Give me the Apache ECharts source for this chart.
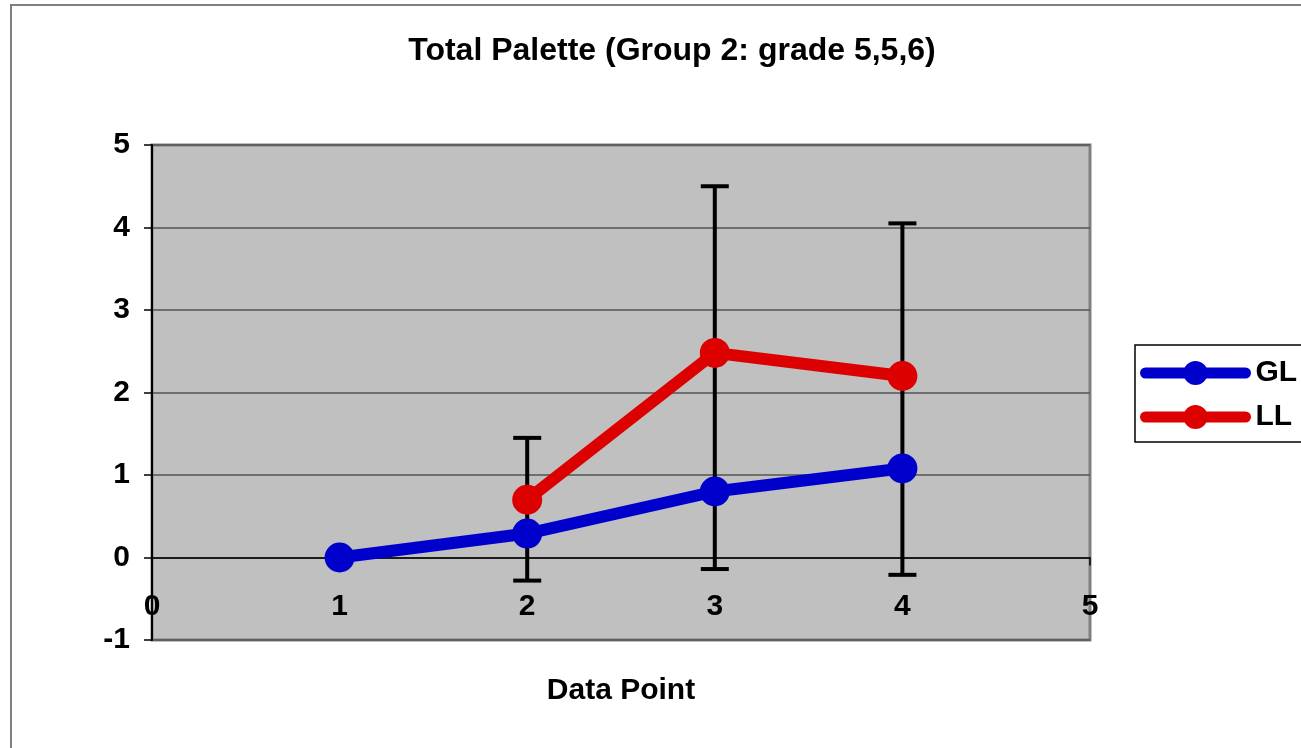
<!DOCTYPE html>
<html>
<head>
<meta charset="utf-8">
<script src="https://cdn.jsdelivr.net/npm/echarts@6/dist/echarts.min.js"></script>
<style>
  html, body { margin: 0; padding: 0; background: #fff; }
  #chart { width: 1301px; height: 748px; }
</style>
</head>
<body>
<div id="chart"></div>
<script>
// data
const xPoints = [1, 2, 3, 4];
const glValues = [0, 0.29, 0.8, 1.08];
const llValues = [null, 0.7, 2.48, 2.2];
const errX = [2, 3, 4];
const errLow = [-0.28, -0.14, -0.21];
const errHigh = [1.45, 4.5, 4.05];
const yTicks = [-1, 0, 1, 2, 3, 4, 5];

const chart = echarts.init(document.getElementById("chart"));
const font = "Liberation Sans, Arial, sans-serif";

const glData = xPoints.map((x, i) => [x, glValues[i]]);
const llData = xPoints.map((x, i) => [x, llValues[i]]).filter(d => d[1] !== null);
const errData = errX.map((x, i) => [x, errLow[i], errHigh[i]]);

const option = {
  backgroundColor: "#fff",
  animation: false,
  title: {
    text: "Total Palette (Group 2: grade 5,5,6)",
    left: 667,
    top: 30,
    textAlign: "center",
    textStyle: { fontFamily: font, fontSize: 32, fontWeight: "bold", color: "#000" },
  },
  grid: {
    left: 152,
    top: 145,
    right: 211,
    bottom: 108,
    outerBoundsMode: "none",
    containLabel: false,
    show: true,
    backgroundColor: "#C0C0C0",
    borderColor: "#808080",
    borderWidth: 3,
  },
  legend: {
    orient: "vertical",
    left: 1135,
    top: 353,
    itemWidth: 100,
    itemHeight: 30,
    itemGap: 14,
    lineStyle: { width: 11, cap: "round" },
    textStyle: { fontFamily: font, fontSize: 30, fontWeight: "bold", color: "#000", padding: [0, 0, 0, 5] },
    data: ["GL", "LL"],
  },
  xAxis: {
    type: "value",
    min: 0,
    max: 5,
    interval: 1,
    name: "Data Point",
    nameLocation: "middle",
    nameGap: 36,
    nameTextStyle: { fontFamily: font, fontSize: 30, fontWeight: "bold", color: "#000" },
    axisLine: { onZero: true, lineStyle: { color: "#000", width: 1.5 } },
    axisTick: { show: true, length: 8, lineStyle: { color: "#000", width: 1.5 } },
    axisLabel: { margin: -48, fontFamily: font, fontSize: 30, fontWeight: "bold", color: "#000" },
    splitLine: { show: false },
  },
  yAxis: {
    type: "value",
    min: yTicks[0],
    max: yTicks[yTicks.length - 1],
    interval: 1,
    axisLine: { show: true, lineStyle: { color: "#000", width: 2 } },
    axisTick: { show: true, length: 8, lineStyle: { color: "#000", width: 1.5 } },
    axisLabel: { margin: 22, fontFamily: font, fontSize: 30, fontWeight: "bold", color: "#000" },
    splitLine: { show: true, lineStyle: { color: "#555", width: 1.5 } },
  },
  graphic: [
    {
      type: "rect",
      shape: { x: 11, y: 5, width: 1400, height: 800 },
      style: { fill: null, stroke: "#808080", lineWidth: 2 },
      z: -10,
    },
    {
      type: "rect",
      shape: { x: 1135, y: 345, width: 300, height: 97 },
      style: { fill: "#fff", stroke: "#000", lineWidth: 1.5 },
      z: 0,
    },
  ],
  series: [
    {
      name: "err",
      type: "custom",
      z: 1,
      data: errData,
      encode: { x: 0, y: [1, 2] },
      renderItem: function (params, api) {
        const x = api.value(0);
        const lo = api.coord([x, api.value(1)]);
        const hi = api.coord([x, api.value(2)]);
        const cap = 14;
        const style = { stroke: "#000", lineWidth: 4 };
        return {
          type: "group",
          children: [
            { type: "line", shape: { x1: lo[0], y1: lo[1], x2: hi[0], y2: hi[1] }, style },
            { type: "line", shape: { x1: lo[0] - cap, y1: lo[1], x2: lo[0] + cap, y2: lo[1] }, style },
            { type: "line", shape: { x1: hi[0] - cap, y1: hi[1], x2: hi[0] + cap, y2: hi[1] }, style },
          ],
        };
      },
    },
    {
      name: "GL",
      type: "line",
      z: 3,
      data: glData,
      symbol: "circle",
      symbolSize: 30,
      color: "#0000CC",
      lineStyle: { color: "#0000CC", width: 12 },
      itemStyle: { color: "#0000CC" },
    },
    {
      name: "LL",
      type: "line",
      z: 2,
      data: llData,
      symbol: "circle",
      symbolSize: 30,
      color: "#DD0000",
      lineStyle: { color: "#DD0000", width: 12 },
      itemStyle: { color: "#DD0000" },
    },
  ],
};

chart.setOption(option);
</script>
</body>
</html>
